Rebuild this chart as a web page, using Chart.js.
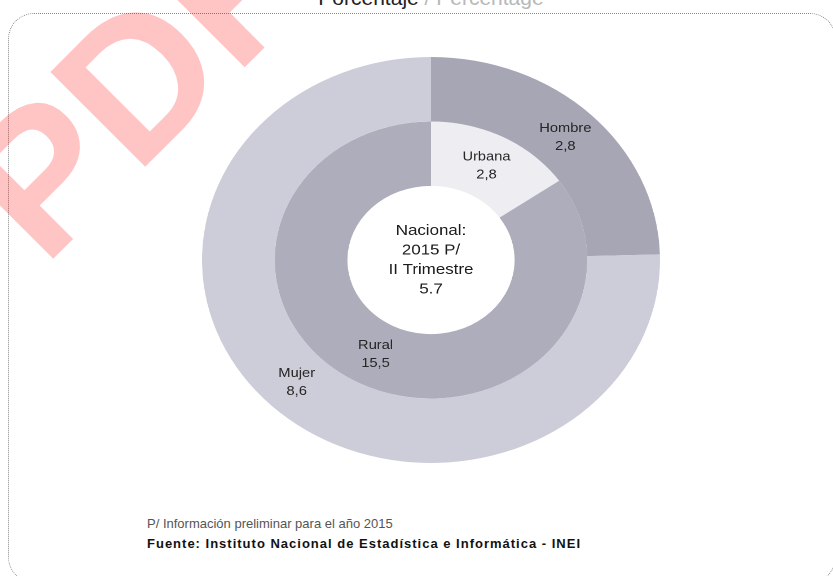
<!DOCTYPE html>
<html>
<head>
<meta charset="utf-8">
<script src="https://cdn.jsdelivr.net/npm/chart.js@4"></script>
<style>
    html, body { margin: 0; padding: 0; background: #fff; }
    body { width: 833px; height: 576px; position: relative; overflow: hidden; font-family: "Liberation Sans", Arial, sans-serif; }
    #marco {
        position: absolute; left: 8px; top: 13px; width: 828px; height: 570px;
        border: 1px dotted #8a8a8a; border-radius: 26px; box-sizing: border-box;
    }
    #titulo {
        position: absolute; left: 0; width: 862px; top: -14px; text-align: center;
        font-size: 21px; color: #222;
    }
    #titulo span { color: #b8b8b8; }
    #contenedor {
        position: absolute; left: 228px; top: 57px; width: 406px; height: 406px;
        transform: scaleX(1.128); transform-origin: 50% 50%;
    }
    .nota { position: absolute; left: 147px; font-size: 13px; white-space: nowrap; }
    #nota1 { top: 516px; color: #555; }
    #nota2 { top: 536px; color: #111; font-weight: bold; letter-spacing: 1px; }
    #marca { position: absolute; left: 0; top: 0; }
</style>
</head>
<body>
<div id="titulo">Porcentaje <span>/ Percentage</span></div>
<div id="marco"></div>
<div id="contenedor"><canvas id="ciambella" width="406" height="406"></canvas></div>
<div class="nota" id="nota1">P/ Información preliminar para el año 2015</div>
<div class="nota" id="nota2">Fuente: Instituto Nacional de Estadística e Informática - INEI</div>
<svg id="marca" width="833" height="576">
    <text x="44" y="268" transform="rotate(-45 44 268)" font-family="Liberation Sans, Arial, sans-serif"
          font-size="195" font-weight="bold" fill="rgba(255,0,0,0.23)">PDF</text>
</svg>
<script>
// anello esterno: sesso
const sessoLabels = ["Hombre", "Mujer"];
const sessoValori = [2.8, 8.6];
// anello interno: area
const areaLabels = ["Urbana", "Rural"];
const areaValori = [2.8, 15.5];
// testo centrale
const centroTesto = ["Nacional:", "2015 P/", "II Trimestre"];
const nacionalValore = 5.7;

const formatta = (v) => v.toFixed(1).replace(".", ",");

// Plugin che scrive etichette e testo centrale
const etichette = {
    id: "etichette",
    afterDatasetsDraw(chart) {
        const ctx = chart.ctx;
        ctx.save();
        ctx.textAlign = "center";
        ctx.textBaseline = "middle";
        ctx.fillStyle = "#262626";
        ctx.font = "13px 'Liberation Sans', Arial, sans-serif";
        chart.data.datasets.forEach((ds, i) => {
            const meta = chart.getDatasetMeta(i);
            meta.data.forEach((arc, j) => {
                const p = arc.tooltipPosition();
                ctx.fillText(ds.nomi[j], p.x, p.y - 9);
                ctx.fillText(formatta(ds.data[j]), p.x, p.y + 9);
            });
        });
        const arc0 = chart.getDatasetMeta(0).data[0];
        const cx = arc0.x, cy = arc0.y;
        ctx.fillStyle = "#1c1c1c";
        ctx.font = "15px 'Liberation Sans', Arial, sans-serif";
        const righe = centroTesto.concat([String(nacionalValore)]);
        righe.forEach((r, k) => {
            ctx.fillText(r, cx, cy + (k - 1.5) * 19.5);
        });
        ctx.restore();
    },
};

const ctx = document.getElementById("ciambella").getContext("2d");
new Chart(ctx, {
    type: "doughnut",
    data: {
        labels: sessoLabels,
        datasets: [
            {
                data: sessoValori,
                nomi: sessoLabels,
                backgroundColor: ["#a6a6b5", "#cdcdd9"],
                borderWidth: 0,
            },
            {
                data: areaValori,
                nomi: areaLabels,
                backgroundColor: ["#ededf2", "#adadbb"],
                borderWidth: 0,
            },
        ],
    },
    options: {
        responsive: false,
        animation: false,
        devicePixelRatio: 2,
        cutout: "36.5%",
        layout: { padding: 0 },
        plugins: {
            legend: { display: false },
            tooltip: { enabled: false },
        },
    },
    plugins: [etichette],
});
</script>
</body>
</html>
